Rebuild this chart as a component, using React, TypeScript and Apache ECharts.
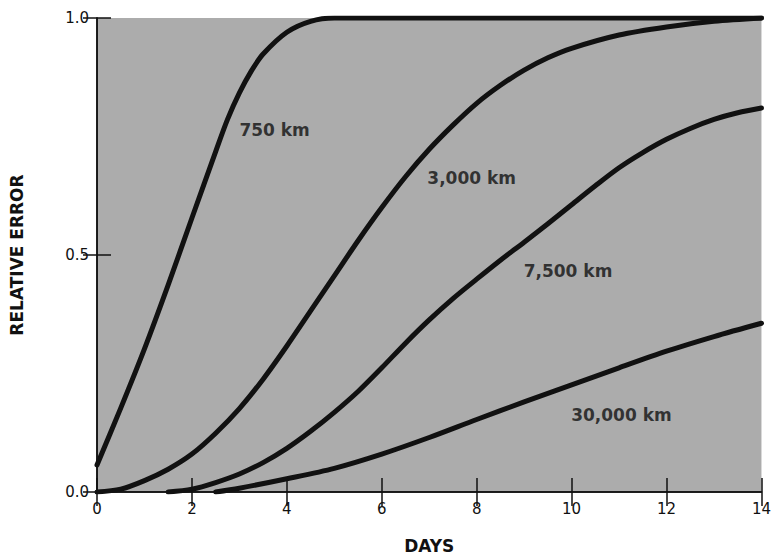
import React, { useEffect, useRef } from "react";
import * as echarts from "echarts";

// Day ticks / value ticks
const xTicks = [0, 2, 4, 6, 8, 10, 12, 14];
const yTicks = [0.0, 0.5, 1.0];

// 750 km curve
const days750 = [0, 0.5, 1, 1.5, 2, 2.5, 2.75, 3, 3.25, 3.5, 4, 4.5, 5, 6, 8, 10, 12, 14];
const err750 = [0.057, 0.177, 0.302, 0.437, 0.578, 0.718, 0.786, 0.842, 0.888, 0.924, 0.97, 0.993, 1.0, 1.0, 1.0, 1.0, 1.0, 1.0];

// 3,000 km curve
const days3000 = [0, 0.5, 1, 1.5, 2, 2.5, 3, 3.5, 4, 4.5, 5, 5.5, 6, 6.5, 7, 7.5, 8, 8.5, 9, 9.5, 10, 11, 12, 13, 14];
const err3000 = [0, 0.006, 0.024, 0.048, 0.08, 0.124, 0.176, 0.238, 0.308, 0.382, 0.456, 0.53, 0.6, 0.665, 0.723, 0.774, 0.82, 0.858, 0.89, 0.916, 0.936, 0.964, 0.981, 0.993, 1.0];

// 7,500 km curve
const days7500 = [1.5, 2, 2.5, 3, 3.5, 4, 4.5, 5, 5.5, 6, 6.5, 7, 7.5, 8, 8.5, 9, 9.5, 10, 10.5, 11, 11.5, 12, 12.5, 13, 13.5, 14];
const err7500 = [0, 0.006, 0.02, 0.038, 0.062, 0.092, 0.128, 0.168, 0.212, 0.262, 0.314, 0.363, 0.408, 0.449, 0.489, 0.527, 0.566, 0.606, 0.646, 0.684, 0.716, 0.744, 0.767, 0.786, 0.8, 0.81];

// 30,000 km curve
const days30000 = [2.5, 3, 4, 5, 6, 7, 8, 9, 10, 11, 12, 13, 14];
const err30000 = [0, 0.008, 0.028, 0.05, 0.08, 0.115, 0.153, 0.19, 0.226, 0.262, 0.297, 0.328, 0.356];

// Curve labels: text and anchor (day, relative error)
const labelTexts = ["750 km", "3,000 km", "7,500 km", "30,000 km"];
const labelDays = [3.0, 6.96, 8.99, 9.99];
const labelErrs = [0.763, 0.662, 0.467, 0.163];

const INK = "#111111";
const FONT = "DejaVu Sans";

function pairs(xs: number[], ys: number[]) {
  return xs.map((x, i) => [x, ys[i]]);
}

export default function App() {
  const ref = useRef<HTMLDivElement>(null);

  useEffect(() => {
    if (!ref.current) return;
    const chart = echarts.init(ref.current, undefined, { renderer: "svg" });

    const lineSeries = (data: number[][]) => ({
      type: "line",
      data,
      smooth: 0.3,
      showSymbol: false,
      symbol: "none",
      lineStyle: { color: INK, width: 5, cap: "round", join: "round" },
      clip: true,
      z: 3,
    });

    const axisLineStyle = { color: INK, width: 1.5 };
    const tickStyle = { show: true, inside: true, length: 14, lineStyle: { color: INK, width: 1.5 } };

    chart.setOption({
      animation: false,
      backgroundColor: "#ffffff",
      grid: {
        left: 97,
        right: 7,
        top: 18,
        bottom: 64,
        show: true,
        backgroundColor: "#acacac",
        borderWidth: 0,
      },
      xAxis: [
        {
          type: "value",
          min: xTicks[0],
          max: xTicks[xTicks.length - 1],
          interval: 2,
          position: "bottom",
          name: "DAYS",
          nameLocation: "middle",
          nameGap: 45,
          nameTextStyle: { fontFamily: FONT, fontWeight: "bold", fontSize: 17, color: INK },
          axisLine: { show: true, lineStyle: axisLineStyle },
          axisTick: tickStyle,
          axisLabel: {
            show: true,
            margin: 9,
            fontFamily: FONT,
            fontSize: 15,
            color: INK,
            formatter: (v: number) => String(v),
          },
          splitLine: { show: false },
        },
        {
          type: "value",
          min: xTicks[0],
          max: xTicks[xTicks.length - 1],
          interval: 2,
          position: "top",
          axisLine: { show: true, lineStyle: axisLineStyle },
          axisTick: tickStyle,
          axisLabel: { show: false },
          splitLine: { show: false },
        },
      ],
      yAxis: [
        {
          type: "value",
          min: yTicks[0],
          max: yTicks[yTicks.length - 1],
          interval: 0.5,
          position: "left",
          name: "RELATIVE ERROR",
          nameLocation: "middle",
          nameGap: 72,
          nameRotate: 90,
          nameTextStyle: { fontFamily: FONT, fontWeight: "bold", fontSize: 17, color: INK },
          axisLine: { show: true, lineStyle: axisLineStyle },
          axisTick: tickStyle,
          axisLabel: {
            show: true,
            margin: 8,
            fontFamily: FONT,
            fontSize: 15,
            color: INK,
            formatter: (v: number) => v.toFixed(1),
          },
          splitLine: { show: false },
        },
        {
          type: "value",
          min: yTicks[0],
          max: yTicks[yTicks.length - 1],
          interval: 0.5,
          position: "right",
          axisLine: { show: true, lineStyle: axisLineStyle },
          axisTick: tickStyle,
          axisLabel: { show: false },
          splitLine: { show: false },
        },
      ],
      series: [
        lineSeries(pairs(days750, err750)),
        lineSeries(pairs(days3000, err3000)),
        lineSeries(pairs(days7500, err7500)),
        lineSeries(pairs(days30000, err30000)),
        {
          type: "scatter",
          symbolSize: 0,
          z: 4,
          data: labelTexts.map((t, i) => ({ value: [labelDays[i], labelErrs[i]], name: t })),
          label: {
            show: true,
            position: "right",
            distance: 0,
            formatter: (p: any) => p.name,
            fontFamily: FONT,
            fontWeight: "bold",
            fontSize: 17,
            color: INK,
          },
          silent: true,
        },
      ],
    });

    return () => chart.dispose();
  }, []);

  return (
    <div
      ref={ref}
      style={{ position: "absolute", left: 0, top: 0, width: 774, height: 559 }}
    />
  );
}
